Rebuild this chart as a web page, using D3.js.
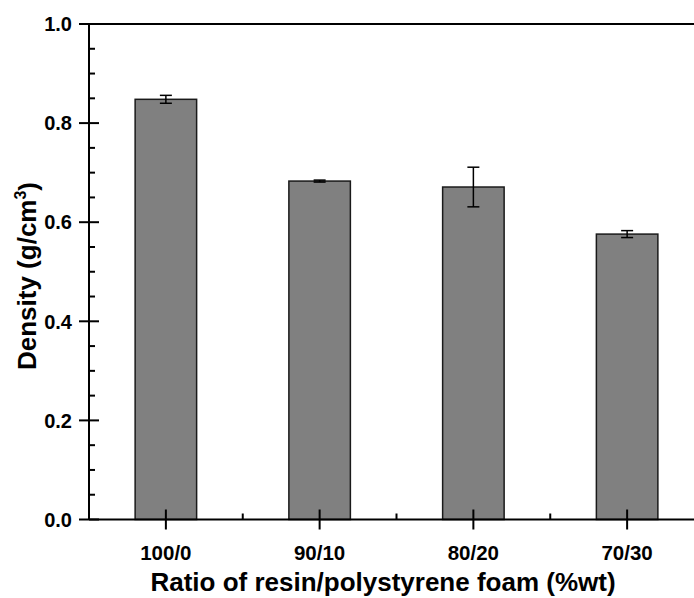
<!DOCTYPE html>
<html>
<head>
<meta charset="utf-8">
<script src="https://cdn.jsdelivr.net/npm/d3@7"></script>
<style>
  html, body { margin: 0; padding: 0; background: #fff; }
  svg { display: block; }
  text { font-family: Arial, "Liberation Sans", sans-serif; font-weight: bold; fill: #000; }
</style>
</head>
<body>
<svg id="chart" width="694" height="598"></svg>
<script>
const categories = ["100/0", "90/10", "80/20", "70/30"];
const densities = [0.848, 0.683, 0.671, 0.576];
const errors = [0.008, 0.002, 0.040, 0.007];
const yTicks = [0.0, 0.2, 0.4, 0.6, 0.8, 1.0];
const xTitle = "Ratio of resin/polystyrene foam (%wt)";

const W = 694, H = 598;
const pLeft = 89, pTop = 24, pBottom = 519.5, pRight = 704;

const svg = d3.select("#chart");

const x = d3.scaleBand().domain(categories).range([pLeft, pRight]).paddingInner(0.6).paddingOuter(0.3);
const y = d3.scaleLinear().domain([0, 1]).range([pBottom, pTop]);

// bars
svg.append("g").selectAll("rect").data(categories).join("rect")
  .attr("x", d => x(d))
  .attr("y", (d, i) => y(densities[i]))
  .attr("width", x.bandwidth())
  .attr("height", (d, i) => y(0) - y(densities[i]))
  .attr("fill", "#808080")
  .attr("stroke", "#1a1a1a")
  .attr("stroke-width", 1.5);

// error bars
const eb = svg.append("g").attr("stroke", "#000").attr("stroke-width", 1.5);
categories.forEach((c, i) => {
  const cx = x(c) + x.bandwidth() / 2;
  const y1 = y(densities[i] + errors[i]), y2 = y(densities[i] - errors[i]);
  eb.append("line").attr("x1", cx).attr("x2", cx).attr("y1", y1).attr("y2", y2);
  eb.append("line").attr("x1", cx - 6).attr("x2", cx + 6).attr("y1", y1).attr("y2", y1);
  eb.append("line").attr("x1", cx - 6).attr("x2", cx + 6).attr("y1", y2).attr("y2", y2);
});

// frame lines
const fr = svg.append("g").attr("stroke", "#000").attr("stroke-width", 2);
fr.append("line").attr("x1", pLeft).attr("x2", W).attr("y1", y(0)).attr("y2", y(0));
fr.append("line").attr("x1", pLeft).attr("x2", W).attr("y1", y(1)).attr("y2", y(1));
fr.append("line").attr("x1", pLeft).attr("x2", pLeft).attr("y1", y(0)).attr("y2", y(1));

// y ticks
const yMinor = d3.range(0, 1.0001, 0.05);
yMinor.forEach(v => {
  const isMajor = Math.abs(Math.round(v * 5) - v * 5) < 1e-6;
  fr.append("line")
    .attr("x1", isMajor ? pLeft - 10 : pLeft).attr("x2", isMajor ? pLeft + 10 : pLeft + 6)
    .attr("y1", y(v)).attr("y2", y(v));
});
svg.append("g").selectAll("text").data(yTicks).join("text")
  .attr("x", pLeft - 17).attr("y", d => y(d)).attr("dy", "0.36em")
  .attr("text-anchor", "end").attr("font-size", 20)
  .text(d => d.toFixed(1));

// x ticks
categories.forEach((c, i) => {
  const cx = x(c) + x.bandwidth() / 2;
  fr.append("line").attr("x1", cx).attr("x2", cx).attr("y1", y(0) - 10).attr("y2", y(0) + 10);
  if (i < categories.length - 1) {
    const mx = cx + x.step() / 2;
    fr.append("line").attr("x1", mx).attr("x2", mx).attr("y1", y(0) - 6).attr("y2", y(0));
  }
});
svg.append("g").selectAll("text").data(categories).join("text")
  .attr("x", d => x(d) + x.bandwidth() / 2).attr("y", 560)
  .attr("text-anchor", "middle").attr("font-size", 20.5)
  .text(d => d);

// titles
svg.append("text").attr("x", 383).attr("y", 591)
  .attr("text-anchor", "middle").attr("font-size", 26).text(xTitle);

const yt = svg.append("text")
  .attr("transform", `translate(36, 276) rotate(-90)`)
  .attr("text-anchor", "middle").attr("font-size", 26);
yt.append("tspan").text("Density (g/cm");
yt.append("tspan").attr("font-size", 16).attr("dy", "-0.6em").text("3");
yt.append("tspan").attr("dy", "0.4em").text(")");
</script>
</body>
</html>
